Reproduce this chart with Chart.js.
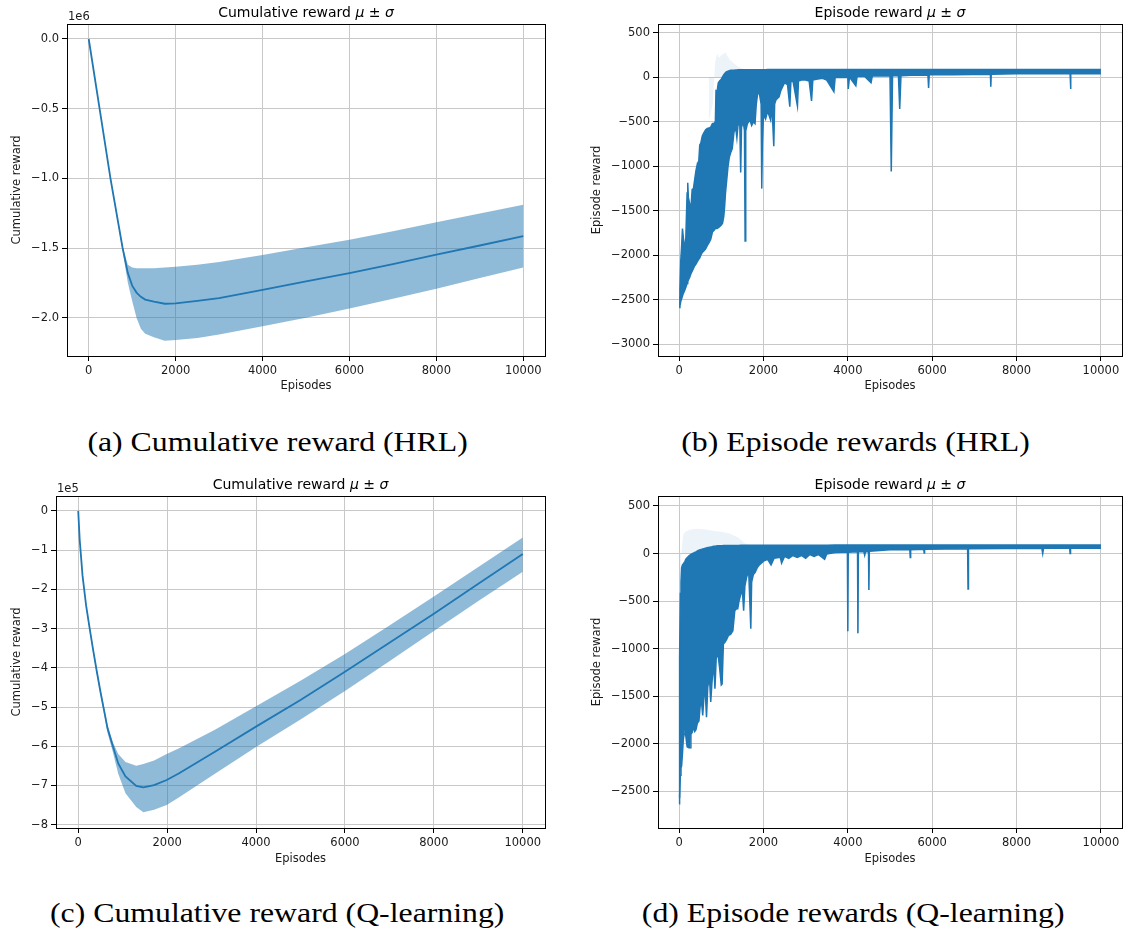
<!DOCTYPE html>
<html><head><meta charset="utf-8">
<script src="https://cdn.jsdelivr.net/npm/chart.js@4.4.1/dist/chart.umd.min.js"></script>
<style>
html,body{margin:0;padding:0;background:#fff;}
body{width:1126px;height:929px;position:relative;overflow:hidden;}
canvas{position:absolute;}
.cap{position:absolute;width:600px;text-align:center;font-family:'Liberation Serif',serif;font-size:28px;line-height:36px;color:#000;white-space:nowrap;}
.cap span{display:inline-block;transform:scaleX(1.135);}
</style></head><body>
<canvas id="cA" width="560" height="400" style="left:0;top:0"></canvas>
<canvas id="cB" width="566" height="400" style="left:560px;top:0"></canvas>
<canvas id="cC" width="560" height="400" style="left:0;top:470px"></canvas>
<canvas id="cD" width="566" height="400" style="left:560px;top:470px"></canvas>
<div class="cap" style="left:-22px;top:424px"><span>(a) Cumulative reward (HRL)</span></div>
<div class="cap" style="left:556px;top:424px"><span>(b) Episode rewards (HRL)</span></div>
<div class="cap" style="left:-23px;top:895px"><span>(c) Cumulative reward (Q-learning)</span></div>
<div class="cap" style="left:553px;top:895px"><span>(d) Episode rewards (Q-learning)</span></div>
<script>
// ---------- tick labels ----------
const xTicks = [0, 2000, 4000, 6000, 8000, 10000];
const yTicksA = [0, -500000, -1000000, -1500000, -2000000];
const yTicksB = [500, 0, -500, -1000, -1500, -2000, -2500, -3000];
const yTicksC = [0, -100000, -200000, -300000, -400000, -500000, -600000, -700000, -800000];
const yTicksD = [500, 0, -500, -1000, -1500, -2000, -2500];

// ---------- (a) cumulative reward, HRL ----------
const epA   = [0, 250, 500, 780, 900, 1000, 1100, 1200, 1300, 1500, 1750, 2000, 2500, 3000, 4000, 5000, 6000, 7000, 8000, 9000, 10000];
const meanA = [0, -500000, -1000000, -1500000, -1680000, -1770000, -1820000, -1850000, -1870000, -1885000, -1900000, -1897000, -1880000, -1860000, -1800000, -1740000, -1680000, -1615000, -1548000, -1482000, -1414000];
const upA   = [0, -495000, -990000, -1490000, -1620000, -1640000, -1645000, -1645000, -1645000, -1645000, -1640000, -1635000, -1620000, -1600000, -1550000, -1495000, -1440000, -1380000, -1315000, -1252000, -1190000];
const loA   = [0, -505000, -1010000, -1520000, -1750000, -1880000, -2000000, -2080000, -2115000, -2140000, -2165000, -2160000, -2145000, -2120000, -2062000, -2000000, -1935000, -1865000, -1792000, -1716000, -1640000];

// ---------- (c) cumulative reward, Q-learning ----------
const epC   = [0, 32, 97, 177, 258, 338, 419, 500, 580, 660, 780, 900, 1063, 1305, 1465, 1707, 1990, 2270, 3075, 4000, 5000, 6000, 7000, 8000, 9000, 10000];
const meanC = [0, -72000, -165000, -241000, -300000, -356000, -410000, -461000, -508000, -555000, -600000, -644000, -677000, -701000, -705000, -699000, -686000, -669000, -614000, -550000, -482000, -410000, -336000, -262000, -186000, -110000];
const upC   = [0, -70000, -162000, -237000, -296000, -351000, -404000, -455000, -500000, -545000, -590000, -620000, -640000, -650000, -645000, -636000, -620000, -605000, -558000, -498000, -433000, -365000, -292000, -218000, -143000, -68000];
const loC   = [0, -76000, -170000, -247000, -306000, -362000, -417000, -469000, -517000, -566000, -615000, -670000, -720000, -755000, -768000, -762000, -750000, -730000, -670000, -602000, -532000, -459000, -383000, -306000, -230000, -155000];

// ---------- (b) episode reward, HRL (envelope of the plotted line) ----------
const epB = [0,20,40,60,80,100,130,160,190,205,220,250,280,310,340,370,400,435,460,490,515,550,590,630,670,710,750,790,830,860,875,900,930,960,1000,1030,1060,1080,1100,1130,1160,1190,1220,1260,1300,1340,1370,1400,1440,1460,1480,1520,1550,1565,1580,1620,1680,1720,1760,1800,1830,1870,1910,1945,1960,1975,2000,2050,2100,2170,2200,2245,2265,2300,2370,2410,2500,2570,2625,2650,2700,2806,2830,2900,3000,3083,3140,3170,3250,3400,3500,3670,3700,3800,4000,4010,4040,4190,4220,4400,4550,4580,4800,5000,5030,5060,5200,5230,5260,5500,5900,5915,5930,6500,7380,7390,7400,8000,9270,9280,9290,10000];
const loB = [-2590,-2570,-2520,-2490,-2460,-2430,-2400,-2360,-2320,-2300,-2280,-2250,-2210,-2180,-2150,-2120,-2100,-2070,-2050,-2030,-2000,-1970,-1950,-1930,-1890,-1860,-1820,-1740,-1720,-1700,-1700,-1700,-1690,-1680,-1660,-1640,-1560,-1450,-1300,-1150,-1000,-900,-850,-800,-620,-560,-680,-520,-540,-1070,-560,-500,-600,-1840,-600,-520,-480,-540,-500,-520,-300,-150,-200,-300,-1250,-750,-420,-470,-380,-480,-300,-775,-300,-250,-220,-150,-60,-80,-330,-50,-40,-322,-40,-30,-30,-40,-265,-30,-20,-10,-30,-160,0,0,0,-130,5,-95,10,10,-60,15,15,20,-1060,20,20,-355,20,25,25,-120,30,30,35,-105,35,40,40,-130,40,40];
const upB = [-2470,-2380,-2060,-1900,-1700,-1800,-1950,-1800,-1300,-1185,-1350,-1420,-1480,-1260,-1250,-1150,-1050,-970,-1000,-760,-740,-660,-620,-590,-575,-570,-560,-520,-515,-500,-150,-160,-60,-40,-20,5,30,40,55,65,70,75,80,80,82,84,84,85,85,85,85,85,85,85,85,86,86,86,86,86,86,86,87,87,87,87,87,87,88,88,88,88,88,88,88,88,88,88,88,88,88,88,88,88,88,88,88,88,88,88,88,88,88,88,89,89,89,89,89,89,89,89,89,89,89,89,89,89,89,90,90,90,90,90,90,90,90,90,90,90,90,90];
const epFB = [700, 800, 850, 900, 950, 1000, 1100, 1200, 1300, 1400, 1500, 1600];
const faintB = [-500, -300, 150, 270, 220, 250, 280, 200, 160, 120, 100, 85];

// ---------- (d) episode reward, Q-learning ----------
const epD = [0,8,16,30,45,60,80,100,120,140,160,190,230,260,280,310,340,370,400,435,470,500,530,560,590,620,650,680,720,750,780,820,850,880,920,960,1000,1020,1050,1090,1130,1170,1220,1275,1320,1360,1390,1420,1455,1500,1530,1560,1600,1650,1700,1720,1760,1800,1850,1900,1950,2000,2100,2180,2250,2400,2430,2500,2600,2700,2800,2900,3000,3100,3200,3300,3450,3500,3700,3900,3990,4000,4010,4230,4240,4250,4380,4400,4420,4490,4500,4510,5000,5470,5480,5490,5800,5810,5820,6840,6850,6860,8600,8620,8640,9260,9270,9280,10000];
const loD = [-2630,-2620,-2560,-2330,-2250,-2230,-2100,-1950,-1900,-1850,-1920,-2030,-2040,-2040,-1900,-1880,-1820,-1870,-1850,-1780,-1760,-1600,-1550,-1700,-1500,-1450,-1720,-1400,-1300,-1560,-1350,-1150,-1420,-1100,-1050,-1200,-1380,-1370,-950,-930,-900,-860,-850,-810,-600,-580,-580,-500,-440,-380,-600,-340,-250,-180,-790,-300,-220,-200,-150,-120,-100,-80,-60,-120,-50,-40,-100,-30,-50,-20,-40,-20,-50,-10,-30,-10,-60,-5,10,15,15,-816,15,20,-837,20,20,-17,20,20,-383,25,40,40,-42,40,45,5,45,50,-373,50,55,0,55,55,0,55,55];
const upD = [-2560,-1600,-1100,-420,-300,-150,-120,-110,-95,-80,-60,-45,-25,-15,-10,-2,5,12,18,28,35,40,44,48,52,56,60,63,66,70,72,76,78,80,81,82,83,83,84,84,85,85,85,86,86,86,86,86,87,87,87,87,87,87,87,87,87,88,88,88,88,88,88,88,88,88,88,88,88,88,88,88,88,88,88,88,88,88,89,89,89,89,89,89,89,89,89,89,89,89,89,89,90,90,90,90,90,90,90,90,90,90,90,90,90,90,90,90,90];
const epFD = [20, 60, 100, 150, 250, 400, 600, 800, 1000, 1200, 1400, 1550, 1700];
const faintD = [-300, 50, 200, 230, 250, 260, 255, 240, 230, 210, 170, 110, 85];

// ---------- styling ----------
const BLUE = '#1f77b4', BAND = 'rgba(31,119,180,0.5)', FAINT = 'rgba(31,119,180,0.08)';
const GRID = '#c8c8c8', TXT = '#1a1a1a';
const FAM = "'DejaVu Sans', sans-serif";
const FONT = {family: FAM, size: 11.5};
const minus = s => String(s).replace('-', '\u2212');
const pts = (xs, ys) => xs.map((x, i) => ({x: x, y: ys[i]}));

const deco = {
  id: 'deco',
  afterDraw(chart, _a, o) {
    const ctx = chart.ctx, a = chart.chartArea;
    ctx.save();
    ctx.strokeStyle = '#000'; ctx.lineWidth = 1;
    const l = Math.round(a.left), t = Math.round(a.top);
    ctx.strokeRect(l + 0.5, t + 0.5, Math.round(a.right) - l, Math.round(a.bottom) - t);
    const parts = [[o.title, ''], ['\u03bc', 'italic '], [' \u00b1 ', ''], ['\u03c3', 'italic ']];
    const f = "14px " + FAM;
    let w = 0;
    parts.forEach(p => { ctx.font = p[1] + f; p.push(ctx.measureText(p[0]).width); w += p[2]; });
    let x = (a.left + a.right) / 2 - w / 2;
    ctx.fillStyle = '#000'; ctx.textBaseline = 'alphabetic'; ctx.textAlign = 'left';
    parts.forEach(p => { ctx.font = p[1] + f; ctx.fillText(p[0], x, a.top - 7); x += p[2]; });
    if (o.offset) { ctx.font = "11.5px " + FAM; ctx.fillStyle = TXT; ctx.fillText(o.offset, a.left + 1, a.top - 4); }
    ctx.restore();
  }
};

function make(id, c) {
  const P = c.P;
  return new Chart(document.getElementById(id), {
    type: 'line',
    data: {datasets: c.datasets},
    plugins: [deco],
    options: {
      responsive: false, animation: false, events: [],
      layout: {padding: {left: 0, right: P.pr, top: P.pt, bottom: 0}},
      elements: {point: {radius: 0}, line: {tension: 0}},
      plugins: {legend: {display: false}, tooltip: {enabled: false}, title: {display: false},
                deco: {title: c.title, offset: c.offset}},
      scales: {
        x: {
          type: 'linear', min: -500, max: 10500,
          afterBuildTicks: s => { s.ticks = xTicks.map(v => ({value: v})); },
          afterFit: s => { s.height = P.xh; },
          grid: {color: GRID, lineWidth: 1, drawTicks: true, tickLength: 5, tickColor: '#000', tickWidth: 1},
          border: {display: false},
          ticks: {font: FONT, color: TXT, padding: 3, maxRotation: 0, autoSkip: false, callback: v => minus(v)},
          title: {display: true, text: 'Episodes', font: FONT, color: TXT, padding: {top: 0, bottom: P.xtb}}
        },
        y: {
          type: 'linear', min: c.yMin, max: c.yMax,
          afterBuildTicks: s => { s.ticks = c.yTicks.map(v => ({value: v})); },
          afterFit: s => { s.width = P.yw; },
          grid: {color: GRID, lineWidth: 1, drawTicks: true, tickLength: 5, tickColor: '#000', tickWidth: 1},
          border: {display: false},
          ticks: {font: FONT, color: TXT, padding: 3, autoSkip: false, callback: v => minus(c.yFmt(v))},
          title: {display: true, text: c.yTitle, font: FONT, color: TXT, padding: {top: P.ytp, bottom: 0}}
        }
      }
    }
  });
}

function cumSets(ep, mean, up, lo) {
  return [
    {data: pts(ep, mean), borderColor: BLUE, borderWidth: 1.8, fill: false, order: 0},
    {data: pts(ep, up), borderWidth: 0, borderColor: 'rgba(0,0,0,0)', backgroundColor: BAND, fill: '+1', order: 1},
    {data: pts(ep, lo), borderWidth: 0, borderColor: 'rgba(0,0,0,0)', fill: false, order: 2}
  ];
}
function epiSets(ep, up, lo, epF, faint) {
  return [
    {data: pts(ep, up), borderColor: BLUE, borderWidth: 1.5, backgroundColor: BLUE, fill: '+1', order: 1},
    {data: pts(ep, lo), borderColor: BLUE, borderWidth: 1.5, fill: false, order: 1},
    {data: pts(epF, faint), borderWidth: 0, borderColor: 'rgba(0,0,0,0)', backgroundColor: FAINT, fill: 'origin', order: 5}
  ];
}

make('cA', {datasets: cumSets(epA, meanA, upA, loA), yMin: -2275000, yMax: 107600, yTicks: yTicksA,
  yFmt: v => (v / 1e6).toFixed(1), yTitle: 'Cumulative reward', title: 'Cumulative reward ', offset: '1e6',
  P: {yw: 67, pr: 15, pt: 24, xh: 44, ytp: 10, xtb: 7}});
make('cB', {datasets: epiSets(epB, upB, loB, epFB, faintB), yMin: -3135, yMax: 601, yTicks: yTicksB,
  yFmt: v => String(v), yTitle: 'Episode reward', title: 'Episode reward ', offset: '',
  P: {yw: 98, pr: 4, pt: 24, xh: 44, ytp: 30, xtb: 7}});
make('cC', {datasets: cumSets(epC, meanC, upC, loC), yMin: -808400, yMax: 38000, yTicks: yTicksC,
  yFmt: v => (v / 1e5).toFixed(0), yTitle: 'Cumulative reward', title: 'Cumulative reward ', offset: '1e5',
  P: {yw: 56, pr: 15, pt: 26, xh: 42, ytp: 10, xtb: 4}});
make('cD', {datasets: epiSets(epD, upD, loD, epFD, faintD), yMin: -2884, yMax: 605, yTicks: yTicksD,
  yFmt: v => String(v), yTitle: 'Episode reward', title: 'Episode reward ', offset: '',
  P: {yw: 98, pr: 4, pt: 26, xh: 42, ytp: 30, xtb: 4}});
</script>
</body></html>
